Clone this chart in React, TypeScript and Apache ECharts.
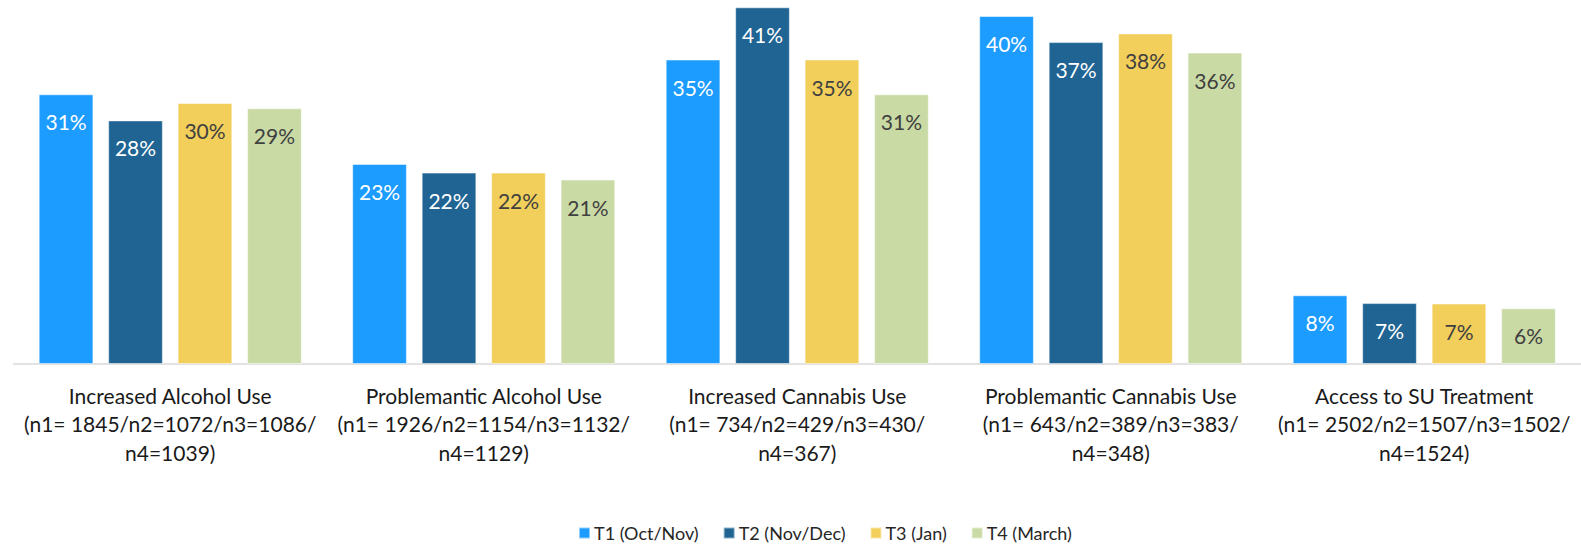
import React, { useEffect, useRef } from "react";
import * as echarts from "echarts";

const categories = [
  "Increased Alcohol Use\n(n1= 1845/n2=1072/n3=1086/\nn4=1039)",
  "Problemantic Alcohol Use\n(n1= 1926/n2=1154/n3=1132/\nn4=1129)",
  "Increased Cannabis Use\n(n1= 734/n2=429/n3=430/\nn4=367)",
  "Problemantic Cannabis Use\n(n1= 643/n2=389/n3=383/\nn4=348)",
  "Access to SU Treatment\n(n1= 2502/n2=1507/n3=1502/\nn4=1524)",
];

const seriesNames = ["T1 (Oct/Nov)", "T2 (Nov/Dec)", "T3 (Jan)", "T4 (March)"];
const t1 = [31, 23, 35, 40, 7.9];
const t2 = [28, 22, 41, 37, 7];
const t3 = [30, 22, 35, 38, 6.95];
const t4 = [29.4, 21.2, 31, 35.8, 6.4];
const seriesData = [t1, t2, t3, t4];
const colors = ["#1C9CFF", "#1F6493", "#F2CE5A", "#C9DAA5"];
const labelColors = ["#FFFFFF", "#FFFFFF", "#404040", "#404040"];

const FONT = "Lato";

export default function App() {
  const ref = useRef<HTMLDivElement>(null);
  useEffect(() => {
    if (!ref.current) return;
    const chart = echarts.init(ref.current, null, { renderer: "svg" });
    chart.setOption({
      animation: false,
      textStyle: { fontFamily: FONT },
      grid: { left: 13.5, width: 1570, top: 7.3, bottom: 181, containLabel: false },
      legend: {
        left: 578,
        top: 524,
        padding: 0,
        itemWidth: 11,
        itemHeight: 11,
        itemGap: 24,
        icon: "rect",
        textStyle: { fontFamily: FONT, fontSize: 18, color: "#262626", padding: [0, 0, 0, -1] },
        data: seriesNames,
      },
      xAxis: {
        type: "category",
        data: categories,
        axisTick: { show: false },
        axisLine: { lineStyle: { color: "#D9D9D9", width: 1.5 } },
        axisLabel: {
          interval: 0,
          margin: 17,
          fontFamily: FONT,
          fontSize: 21,
          lineHeight: 28.5,
          color: "#1a1a1a",
        },
      },
      yAxis: { type: "value", min: 0, max: 41, show: false, splitLine: { show: false } },
      series: seriesData.map((d, i) => ({
        type: "bar",
        name: seriesNames[i],
        data: d,
        barWidth: 54.7,
        barGap: "27%",
        itemStyle: { color: colors[i], borderColor: "rgba(255,255,255,0.5)", borderWidth: 1 },
        label: {
          show: true,
          position: "insideTop",
          distance: 17,
          fontFamily: FONT,
          fontSize: 21,
          color: labelColors[i],
          formatter: (p: any) => Math.round(p.value) + "%",
        },
      })),
    });
    return () => chart.dispose();
  }, []);
  return <div ref={ref} style={{ width: 1581, height: 545, position: "absolute", left: 0, top: 0 }} />;
}
